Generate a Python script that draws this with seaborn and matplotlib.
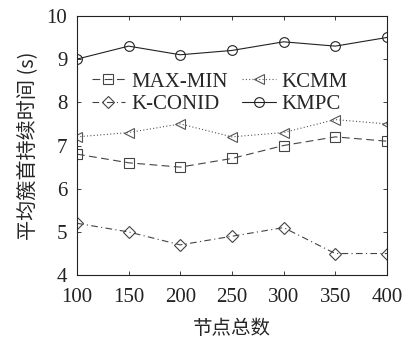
import matplotlib
matplotlib.use("Agg")
import matplotlib.pyplot as plt
import seaborn as sns
import pandas as pd

nodes = [100, 150, 200, 250, 300, 350, 400]
max_min = [6.8, 6.6, 6.5, 6.7, 7.0, 7.2, 7.1]
kcmm = [7.2, 7.3, 7.5, 7.2, 7.3, 7.6, 7.5]
k_conid = [5.2, 5.0, 4.7, 4.9, 5.1, 4.5, 4.5]
kmpc = [9.0, 9.3, 9.1, 9.2, 9.4, 9.3, 9.5]

sns.set_theme(style="ticks")
plt.rcParams['font.family'] = ['Liberation Serif', 'Noto Sans CJK SC']

fig = plt.figure(figsize=(4.03, 3.38), dpi=100)
ax = fig.add_axes([0.191, 0.186, 0.769, 0.767])

# order chosen so the 2-column legend reads row-wise like the original
series = [
    ("MAX-MIN", max_min, (0, (7, 4)), "s", "#444444"),
    ("K-CONID", k_conid, (0, (6, 3, 1, 3)), "D", "#444444"),
    ("KCMM", kcmm, (0, (1, 2)), "<", "#555555"),
    ("KMPC", kmpc, "-", "o", "#222222"),
]
for name, vals, ls, mk, col in series:
    df = pd.DataFrame({"x": nodes, "y": vals})
    sns.lineplot(data=df, x="x", y="y", ax=ax, color=col, linestyle=ls,
                 marker=mk, markersize=7 if mk != "D" else 6,
                 markerfacecolor="none", markeredgecolor=col,
                 markeredgewidth=0.8, linewidth=0.8, label=name)

ax.set_xlim(100, 400)
ax.set_ylim(4, 10)
ax.set_xticks(nodes)
ax.set_yticks([4, 5, 6, 7, 8, 9, 10])
ax.tick_params(direction="in", top=True, right=True, labelsize=15, length=3, width=0.6, colors="#222222")
ax.tick_params(axis="x", pad=9)
ax.tick_params(axis="y", pad=7)
for s in ax.spines.values():
    s.set_linewidth(0.8)
    s.set_color("#222222")
ax.set_xlabel("节点总数", fontsize=14, labelpad=8, family=['Noto Sans CJK SC'])
ax.set_ylabel("平均簇首持续时间 (s)", fontsize=14.5, labelpad=6, family=['Noto Sans CJK SC', 'Liberation Serif'])
ax.legend(ncol=2, frameon=False, loc="upper left", bbox_to_anchor=(0.0, 0.84),
          fontsize=15, handlelength=1.6, columnspacing=0.7, handletextpad=0.3,
          labelspacing=0.15, borderaxespad=0.3)

fig.savefig("out.png", dpi=100)
